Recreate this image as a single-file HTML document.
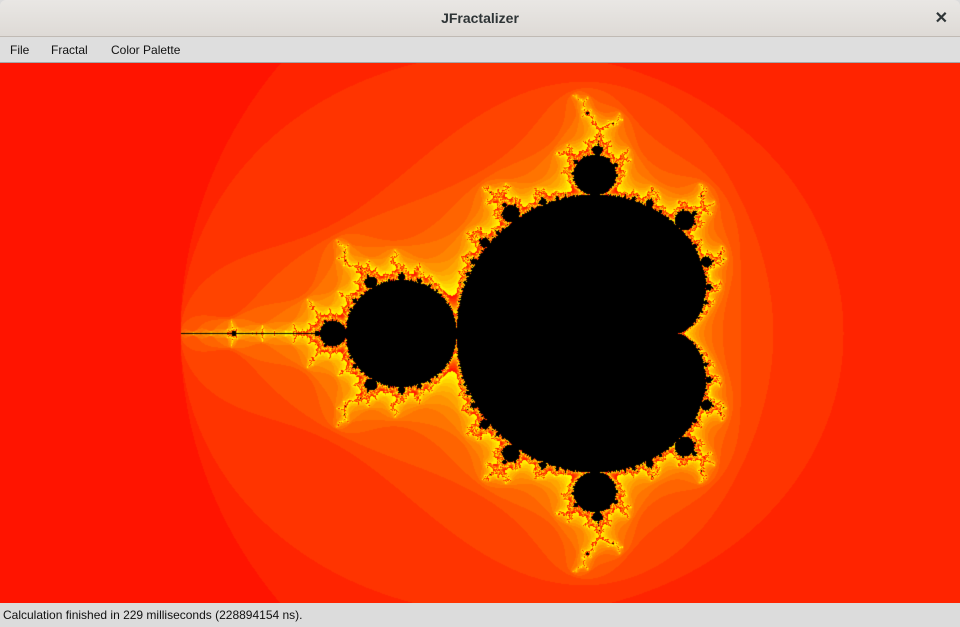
<!DOCTYPE html>
<html><head><meta charset="utf-8">
<style>
html,body{margin:0;padding:0;width:960px;height:627px;overflow:hidden;font-family:"Liberation Sans",sans-serif;background:#dcdcdc}
#title{position:absolute;left:0;top:0;width:960px;height:36px;background:linear-gradient(#e9e7e4,#dedad6);border-bottom:1px solid #c0bab4;border-radius:6px 6px 0 0}
#title span{position:absolute;left:0;right:0;top:10px;text-align:center;font-weight:bold;font-size:14px;color:#2e3436}
#close{position:absolute;right:12px;top:8px;font-size:16px;font-weight:bold;color:#2e3436}
#menu{position:absolute;left:0;top:37px;width:960px;height:25px;background:#dedede;border-bottom:1px solid #a8a8a8;font-size:12px}
#menu span{position:absolute;top:6px;color:#111}
#cv{position:absolute;left:0;top:63px}
#status{position:absolute;left:0;top:603px;width:960px;height:24px;background:#dcdcdc;font-size:12px}
#status span{position:absolute;left:3px;top:5px;color:#111}
</style></head><body>
<div id="title"><span>JFractalizer</span><div id="close">✕</div></div>
<div id="menu">
<span style="left:10px">File</span>
<span style="left:51px">Fractal</span>
<span style="left:111px">Color Palette</span>
</div>
<canvas id="cv" width="960" height="540"></canvas>
<div id="status"><span>Calculation finished in 229 milliseconds (228894154 ns).</span></div>
<script>
const maxIter=[300];
const view=[-2.8145,1.5294,-1.2676,1.2676];
const cv=document.getElementById('cv'),ctx=cv.getContext('2d');
const W=960,H=540,img=ctx.createImageData(W,H);
const sx=(view[1]-view[0])/W, sy=(view[3]-view[2])/H;
for(let py=0;py<H;py++){
  const ci=view[2]+py*sy;
  for(let px=0;px<W;px++){
    const cr=view[0]+px*sx;
    let zr=0,zi=0,n=0;
    while(n<maxIter[0]&&zr*zr+zi*zi<=4){const t=zr*zr-zi*zi+cr;zi=2*zr*zi+ci;zr=t;n++;}
    const k=(py*W+px)*4;
    if(n>=maxIter[0]){img.data[k]=0;img.data[k+1]=0;img.data[k+2]=0;}
    else{
      const m=(n-1)%16;
      img.data[k]=255;img.data[k+1]=Math.min(255,20+m*16);img.data[k+2]=0;
    }
    img.data[k+3]=255;
  }
}
ctx.putImageData(img,0,0);
</script>
</body></html>
